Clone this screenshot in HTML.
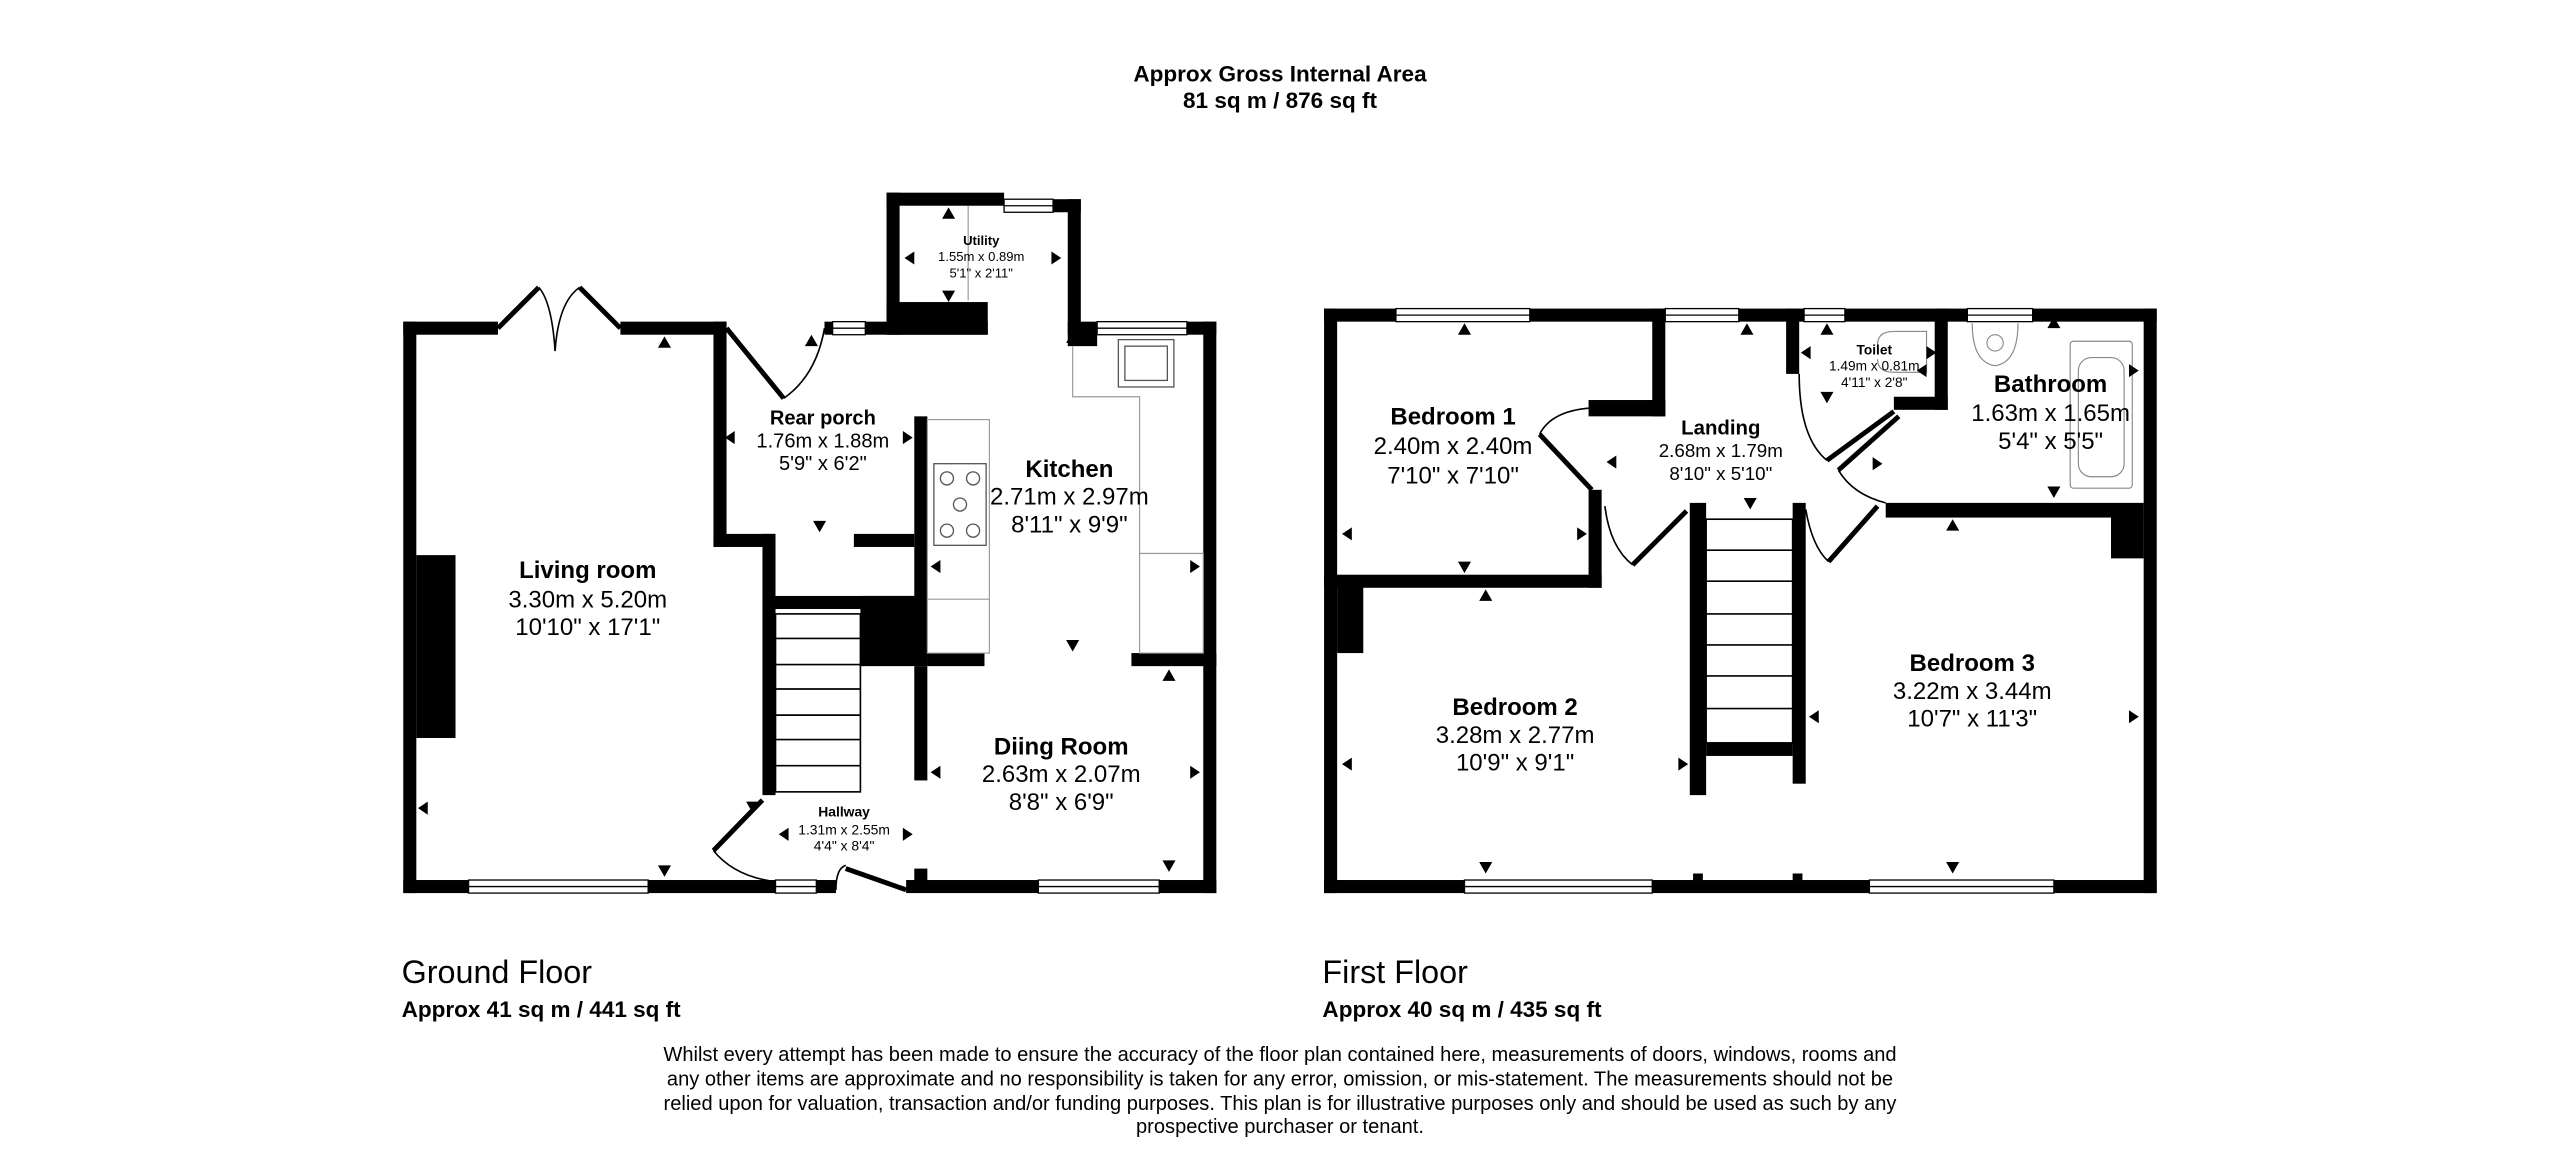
<!DOCTYPE html>
<html><head><meta charset="utf-8"><style>
html,body{margin:0;padding:0;background:#fff;}
svg{display:block;}
text{font-family:"Liberation Sans",Arial,sans-serif;fill:#000;}
.b{font-weight:bold;}
</style></head><body>
<svg width="2560" height="1170" viewBox="0 0 1568 716.6" xmlns="http://www.w3.org/2000/svg">
<rect width="1568" height="717" fill="#fff"/>
<text x="784" y="50" text-anchor="middle" font-size="13.8" class="b">Approx Gross Internal Area</text>
<text x="784" y="66" text-anchor="middle" font-size="13.8" class="b">81 sq m / 876 sq ft</text>

<!-- ============ GROUND FLOOR ============ -->
<g fill="#000">
<rect x="247" y="197" width="8" height="350"/>
<rect x="247" y="539" width="228" height="8"/>
<rect x="500" y="539" width="12" height="8"/>
<rect x="555" y="539" width="190" height="8"/>
<rect x="737" y="197" width="8" height="350"/>
<rect x="247" y="197" width="58" height="8"/>
<rect x="380" y="197" width="65" height="8"/>
<rect x="505" y="197" width="5" height="8"/>
<rect x="530" y="197" width="75" height="8"/>
<rect x="543" y="185" width="62" height="20"/>
<rect x="543" y="118" width="8" height="87"/>
<rect x="543" y="118" width="72" height="8"/>
<rect x="645" y="122" width="17" height="8"/>
<rect x="654" y="122" width="8" height="83"/>
<rect x="654" y="197" width="18" height="15"/>
<rect x="727" y="197" width="18" height="8"/>
<rect x="437" y="197" width="8" height="138"/>
<rect x="437" y="327" width="38" height="8"/>
<rect x="467" y="327" width="8" height="160"/>
<rect x="560" y="255" width="8" height="152"/>
<rect x="523" y="327" width="37" height="8"/>
<rect x="475" y="365" width="93" height="8"/>
<rect x="527" y="365" width="41" height="43"/>
<rect x="568" y="400" width="35" height="8"/>
<rect x="693" y="400" width="52" height="8"/>
<rect x="560" y="408" width="8" height="70"/>
<rect x="560" y="532" width="8" height="10"/>
<rect x="255" y="340" width="24" height="112"/>
</g>
<g fill="#fff" stroke="#000" stroke-width="0.8">
<rect x="287" y="539" width="110" height="8"/><line x1="287" y1="543" x2="397" y2="543"/>
<rect x="475" y="539" width="25" height="8"/><line x1="475" y1="543" x2="500" y2="543"/>
<rect x="636" y="539" width="74" height="8"/><line x1="636" y1="543" x2="710" y2="543"/>
<rect x="510" y="197" width="20" height="8"/><line x1="510" y1="201" x2="530" y2="201"/>
<rect x="615" y="122" width="30" height="8"/><line x1="615" y1="126" x2="645" y2="126"/>
<rect x="672" y="197" width="55" height="8"/><line x1="672" y1="201" x2="727" y2="201"/>
</g>
<g fill="none" stroke="#000">
<path d="M305 201 L330 176 M380 201 L355 176" stroke-width="3"/>
<path d="M330 176 Q338 185 340 215 Q342 185 355 176" stroke-width="1"/>
<path d="M445 201 L480 244" stroke-width="3"/>
<path d="M480 244 Q500 230 505 201" stroke-width="1"/>
<path d="M467 490 L437 521" stroke-width="3"/>
<path d="M437 521 Q450 537 475 540" stroke-width="1"/>
<path d="M518 532 L555 545" stroke-width="3"/>
<path d="M512 545 Q512 532 518 530" stroke-width="1"/>
</g>
<g fill="none" stroke="#000" stroke-width="1">
<rect x="475" y="376" width="52" height="109"/>
<line x1="475" y1="391" x2="527" y2="391"/><line x1="475" y1="407" x2="527" y2="407"/>
<line x1="475" y1="422" x2="527" y2="422"/><line x1="475" y1="438" x2="527" y2="438"/>
<line x1="475" y1="453" x2="527" y2="453"/><line x1="475" y1="469" x2="527" y2="469"/>
</g>
<g fill="none" stroke="#999" stroke-width="0.7">
<path d="M657 212 L657 243 L698 243 L698 339 L737 339"/>
<rect x="698" y="339" width="39" height="61"/>
<rect x="568" y="257" width="38" height="143"/>
<line x1="568" y1="367" x2="606" y2="367"/>
<line x1="593" y1="126" x2="593" y2="184"/>
</g>
<g fill="none" stroke="#555" stroke-width="0.8">
<rect x="685" y="208" width="34" height="29"/><rect x="689" y="212" width="26" height="21"/>
<rect x="572" y="284" width="32" height="50"/>
<circle cx="580" cy="293" r="4"/><circle cx="596" cy="293" r="4"/>
<circle cx="588" cy="309" r="4"/><circle cx="580" cy="325" r="4"/><circle cx="596" cy="325" r="4"/>
</g>

<!-- ============ FIRST FLOOR ============ -->
<g fill="#000">
<rect x="811" y="189" width="44" height="8"/>
<rect x="937" y="189" width="83" height="8"/>
<rect x="1065" y="189" width="40" height="8"/>
<rect x="1130" y="189" width="75" height="8"/>
<rect x="1245" y="189" width="76" height="8"/>
<rect x="811" y="189" width="8" height="358"/>
<rect x="1313" y="189" width="8" height="358"/>
<rect x="811" y="539" width="86" height="8"/>
<rect x="1012" y="539" width="133" height="8"/>
<rect x="1258" y="539" width="63" height="8"/>
<rect x="1012" y="189" width="8" height="66"/>
<rect x="973" y="245" width="47" height="10"/>
<rect x="973" y="300" width="8" height="60"/>
<rect x="811" y="352" width="170" height="8"/>
<rect x="819" y="358" width="16" height="42"/>
<rect x="1094" y="189" width="8" height="40"/>
<rect x="1160" y="243" width="33" height="8"/>
<rect x="1185" y="189" width="8" height="62"/>
<rect x="1155" y="308" width="158" height="9"/>
<rect x="1293" y="316" width="20" height="26"/>
<rect x="1035" y="308" width="10" height="179"/>
<rect x="1098" y="308" width="8" height="172"/>
<rect x="1045" y="455" width="53" height="8"/>
</g>
<g fill="#fff" stroke="#000" stroke-width="0.8">
<rect x="855" y="189" width="82" height="8"/><line x1="855" y1="193" x2="937" y2="193"/>
<rect x="1020" y="189" width="45" height="8"/><line x1="1020" y1="193" x2="1065" y2="193"/>
<rect x="1105" y="189" width="25" height="8"/><line x1="1105" y1="193" x2="1130" y2="193"/>
<rect x="1205" y="189" width="40" height="8"/><line x1="1205" y1="193" x2="1245" y2="193"/>
<rect x="897" y="539" width="115" height="8"/><line x1="897" y1="543" x2="1012" y2="543"/>
<rect x="1145" y="539" width="113" height="8"/><line x1="1145" y1="543" x2="1258" y2="543"/>
</g>
<rect x="1037" y="535" width="6" height="4"/><rect x="1098" y="535" width="6" height="4"/>
<g fill="none" stroke="#000">
<path d="M943 266 L975 300" stroke-width="3"/>
<path d="M943 266 Q950 252 973 250" stroke-width="1"/>
<path d="M1000 346 L1033 313" stroke-width="3"/>
<path d="M983 310 Q986 335 1000 346" stroke-width="1"/>
<path d="M1120 344 L1150 310" stroke-width="3"/>
<path d="M1106 312 Q1110 335 1120 344" stroke-width="1"/>
<path d="M1119 282 L1160 252" stroke-width="3"/>
<path d="M1102 229 Q1102 268 1119 282" stroke-width="1"/>
<path d="M1126 288 L1163 255" stroke-width="3"/>
<path d="M1126 288 Q1135 303 1155 308" stroke-width="1"/>
</g>
<g fill="none" stroke="#000" stroke-width="1">
<rect x="1045" y="318" width="53" height="137"/>
<line x1="1045" y1="337" x2="1098" y2="337"/><line x1="1045" y1="356" x2="1098" y2="356"/>
<line x1="1045" y1="376" x2="1098" y2="376"/><line x1="1045" y1="395" x2="1098" y2="395"/>
<line x1="1045" y1="414" x2="1098" y2="414"/><line x1="1045" y1="434" x2="1098" y2="434"/>
</g>
<g fill="none" stroke="#888" stroke-width="0.7">
<rect x="1268" y="209" width="38" height="90" rx="2"/>
<rect x="1273" y="219" width="28" height="73" rx="8"/>
<path d="M1208 198 Q1208 222 1222 224 Q1236 222 1236 198"/>
<circle cx="1222" cy="210" r="5"/>
<path d="M1150 211 Q1150 203 1160 203 L1180 203 L1180 228 L1160 228 Q1150 228 1150 220"/>
</g>

<g fill="#000">
<path d="M403 213 h8 l-4 -7z M403 530 h8 l-4 7z M262 491 v8 l-6 -4z
M450 264 v8 l-6 -4z M553 264 v8 l6 -4z M498 319 h8 l-4 7z M493 212 h8 l-4 -7z
M577 134 h8 l-4 -7z M577 178 h8 l-4 7z M560 154 v8 l-6 -4z M644 154 v8 l6 -4z
M653 210 h8 l-4 -7z M576 343 v8 l-6 -4z M729 343 v8 l6 -4z M653 392 h8 l-4 7z
M712 417 h8 l-4 -7z M576 469 v8 l-6 -4z M729 469 v8 l6 -4z M712 527 h8 l-4 7z
M483 507 v8 l-6 -4z M553 507 v8 l6 -4z M457 491 h8 l-4 7z
M893 205 h8 l-4 -7z M828 323 v8 l-6 -4z M966 323 v8 l6 -4z M893 344 h8 l-4 7z
M1066 205 h8 l-4 -7z M990 279 v8 l-6 -4z M1068 305 h8 l-4 7z
M1115 205 h8 l-4 -7z M1109 212 v8 l-6 -4z M1180 212 v8 l6 -4z M1115 240 h8 l-4 7z
M1254 201 h8 l-4 -7z M1180 223 v8 l-6 -4z M1304 223 v8 l6 -4z M1254 298 h8 l-4 7z M1147 280 v8 l6 -4z
M906 368 h8 l-4 -7z M828 464 v8 l-6 -4z M1028 464 v8 l6 -4z M906 528 h8 l-4 7z
M1192 325 h8 l-4 -7z M1114 435 v8 l-6 -4z M1304 435 v8 l6 -4z M1192 528 h8 l-4 7z"/>
</g>

<g text-anchor="middle" font-size="14.7">
<text x="360" y="354" class="b">Living room</text><text x="360" y="372">3.30m x 5.20m</text><text x="360" y="389">10'10" x 17'1"</text>
<text x="504" y="260" font-size="12.3" class="b">Rear porch</text><text x="504" y="274" font-size="12.3">1.76m x 1.88m</text><text x="504" y="288" font-size="12.3">5'9" x 6'2"</text>
<text x="655" y="292" class="b">Kitchen</text><text x="655" y="309">2.71m x 2.97m</text><text x="655" y="326">8'11" x 9'9"</text>
<text x="650" y="462" class="b">Diing Room</text><text x="650" y="479">2.63m x 2.07m</text><text x="650" y="496">8'8" x 6'9"</text>
<text x="517" y="500" font-size="8.5" class="b">Hallway</text><text x="517" y="511" font-size="8.5">1.31m x 2.55m</text><text x="517" y="521" font-size="8.5">4'4" x 8'4"</text>
<text x="601" y="150" font-size="8" class="b">Utility</text><text x="601" y="160" font-size="8">1.55m x 0.89m</text><text x="601" y="170" font-size="8">5'1" x 2'11"</text>
<text x="890" y="260" class="b">Bedroom 1</text><text x="890" y="278">2.40m x 2.40m</text><text x="890" y="296">7'10" x 7'10"</text>
<text x="1054" y="266" font-size="12.5" class="b">Landing</text><text x="1054" y="280" font-size="11.5">2.68m x 1.79m</text><text x="1054" y="294" font-size="11.5">8'10" x 5'10"</text>
<text x="1148" y="217" font-size="8.4" class="b">Toilet</text><text x="1148" y="227" font-size="8.4">1.49m x 0.81m</text><text x="1148" y="237" font-size="8.4">4'11" x 2'8"</text>
<text x="1256" y="240" class="b">Bathroom</text><text x="1256" y="258">1.63m x 1.65m</text><text x="1256" y="275">5'4" x 5'5"</text>
<text x="928" y="438" class="b">Bedroom 2</text><text x="928" y="455">3.28m x 2.77m</text><text x="928" y="472">10'9" x 9'1"</text>
<text x="1208" y="411" class="b">Bedroom 3</text><text x="1208" y="428">3.22m x 3.44m</text><text x="1208" y="445">10'7" x 11'3"</text>
</g>

<text x="246" y="602" font-size="19.8">Ground Floor</text>
<text x="246" y="623" font-size="13.8" class="b">Approx 41 sq m / 441 sq ft</text>
<text x="810" y="602" font-size="19.8">First Floor</text>
<text x="810" y="623" font-size="13.8" class="b">Approx 40 sq m / 435 sq ft</text>

<g text-anchor="middle" font-size="12.3">
<text x="784" y="650">Whilst every attempt has been made to ensure the accuracy of the floor plan contained here, measurements of doors, windows, rooms and</text>
<text x="784" y="665">any other items are approximate and no responsibility is taken for any error, omission, or mis-statement. The measurements should not be</text>
<text x="784" y="680">relied upon for valuation, transaction and/or funding purposes. This plan is for illustrative purposes only and should be used as such by any</text>
<text x="784" y="694">prospective purchaser or tenant.</text>
</g>
</svg>
</body></html>
